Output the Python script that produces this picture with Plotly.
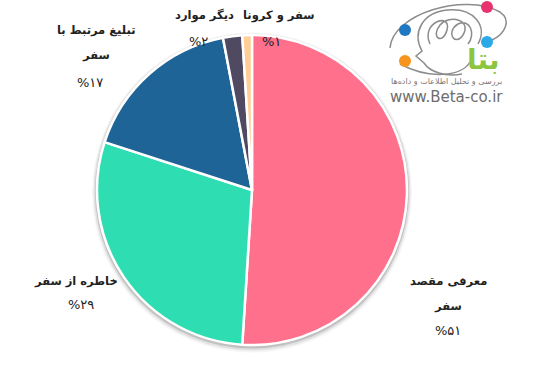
import plotly.graph_objects as go

# ---- data ----
labels = ["معرفی مقصد سفر", "خاطره از سفر", "تبلیغ مرتبط با سفر", "دیگر موارد", "سفر و کرونا"]
values = [51, 29, 17, 2, 1]
colors = ["#ff708c", "#2edeb2", "#1f6496", "#4f4a62", "#ffcd96"]

W, H = 542, 366
PERSIAN = str.maketrans("0123456789", "۰۱۲۳۴۵۶۷۸۹")


def px(x):
    return x / W


def py(y):
    return 1 - y / H


def wrap(s, limit=12):
    words = s.split(" ")
    if len(s) <= limit or len(words) < 2:
        return [s]
    return [" ".join(words[:-1]), words[-1]]


cx, cy, R = 252, 190, 155

fig = go.Figure()
fig.add_trace(go.Pie(
    labels=labels, values=values, sort=False, direction="clockwise", rotation=0,
    marker=dict(colors=colors, line=dict(color="white", width=2.5)),
    textinfo="none", hoverinfo="label+percent", showlegend=False,
    domain=dict(x=[px(cx - R), px(cx + R)], y=[py(cy + R), py(cy - R)]),
))

shapes = []
# soft shadow behind the pie
for r, op, dy in [(160, 0.04, 2.5), (158.5, 0.08, 2), (157, 0.14, 1.5)]:
    shapes.append(dict(type="circle", xref="paper", yref="paper", layer="below",
                       x0=px(cx - r), x1=px(cx + r), y0=py(cy + dy + r), y1=py(cy + dy - r),
                       fillcolor=f"rgba(0,0,0,{op})", line=dict(width=0)))


def path(pts):
    out = []
    for tok in pts:
        if isinstance(tok, str):
            out.append(tok)
        else:
            out.append(f"{px(tok[0]):.5f},{py(tok[1]):.5f}")
    return " ".join(out)


gray = "#8c8c8c"
logo_paths = [
    ["M", (390, 48), "C", (392, 14), (465, -8), (500, 12), "C", (512, 20), (505, 34), (492, 40)],
    ["M", (400, 64), "C", (430, 80), (462, 76), (470, 62)],
    ["M", (462, 74), "C", (445, 77), (430, 72), (424, 63), "L", (416, 56), "L", (422, 51),
     "C", (412, 33), (422, 12), (448, 10), "C", (474, 8), (488, 26), (478, 44)],
    ["M", (430, 44), "C", (420, 22), (452, 12), (447, 30), "C", (443, 45), (430, 38), (440, 25),
     "C", (450, 14), (472, 20), (463, 35), "C", (455, 47), (445, 32), (458, 24),
     "C", (470, 18), (476, 34), (468, 44)],
]
for p in logo_paths:
    shapes.append(dict(type="path", xref="paper", yref="paper", path=path(p),
                       line=dict(color=gray, width=1.5)))
for (x, y, c) in [(487, 7, "#e8336f"), (405, 30, "#1f78c1"), (487, 42, "#2aa8e8"), (405, 61, "#f7941d")]:
    r = 6
    shapes.append(dict(type="circle", xref="paper", yref="paper",
                       x0=px(x - r), x1=px(x + r), y0=py(y + r), y1=py(y - r),
                       fillcolor=c, line=dict(width=0)))

annotations = []
label_font = dict(family="DejaVu Sans", size=11.5, color="#222")
pct_font = dict(family="DejaVu Sans", size=13, color="#222")
# label anchor positions (pixel centers of first line), one per slice
anchors = [(448, 281), (76, 281), (96, 30), (204, 15), (279, 15)]
pct_pos = [(448, 330), (81, 304), (90, 82), (198, 41), (271, 41)]
line_gap = 25
for lab, v, (ax, ay), (qx, qy) in zip(labels, values, anchors, pct_pos):
    for i, ln in enumerate(wrap(lab)):
        annotations.append(dict(text=f"<b>{ln}</b>", x=px(ax), y=py(ay + i * line_gap),
                                xref="paper", yref="paper", showarrow=False,
                                xanchor="center", yanchor="middle", font=label_font))
    annotations.append(dict(text="%" + str(v).translate(PERSIAN), x=px(qx), y=py(qy),
                            xref="paper", yref="paper", showarrow=False,
                            xanchor="center", yanchor="middle", font=pct_font))

# logo texts
annotations.append(dict(text="<b>بتا</b>", x=px(483), y=py(60), xref="paper", yref="paper",
                        xanchor="center", yanchor="middle", showarrow=False,
                        font=dict(family="DejaVu Sans", size=28, color="#8cc63f")))
annotations.append(dict(text="بررسی و تحلیل اطلاعات و داده‌ها", x=px(446), y=py(81), xref="paper",
                        yref="paper", xanchor="center", yanchor="middle", showarrow=False,
                        font=dict(family="DejaVu Sans", size=8, color="#777")))
annotations.append(dict(text="www.Beta-co.ir", x=px(446), y=py(97), xref="paper", yref="paper",
                        xanchor="center", yanchor="middle", showarrow=False,
                        font=dict(family="DejaVu Sans", size=15, color="#6d6d6d")))

fig.update_layout(width=W, height=H, margin=dict(l=0, r=0, t=0, b=0),
                  paper_bgcolor="white", plot_bgcolor="white",
                  shapes=shapes, annotations=annotations)
fig.write_html("out.html")
